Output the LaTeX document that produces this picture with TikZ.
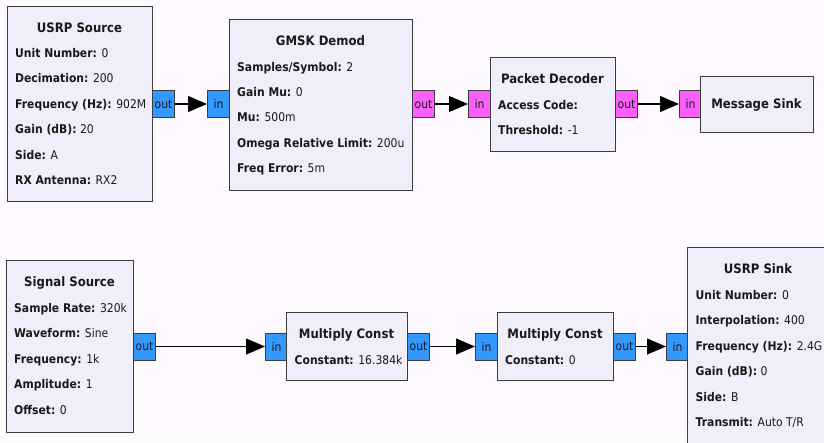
\documentclass[tikz,border=0pt]{standalone}
\usepackage{fontspec}
\setmainfont{DejaVu Sans}[FakeStretch=0.9]
\usetikzlibrary{arrows.meta}
\definecolor{bgc}{RGB}{253,249,255}
\definecolor{blkfill}{RGB}{241,238,252}
\definecolor{bordc}{RGB}{60,60,60}
\definecolor{portblue}{RGB}{51,153,255}
\definecolor{portmag}{RGB}{250,95,250}
\definecolor{txtc}{RGB}{25,25,25}
\newcommand\ttlfont{\fontsize{13}{13}\selectfont\bfseries}
\newcommand\bodyfont{\fontsize{12}{12}\selectfont}
\tikzset{
  blk/.style={draw=bordc, fill=blkfill, line width=1.4pt, rectangle, inner sep=0pt, anchor=north west},
  ttl/.style={font=\ttlfont, text=txtc, anchor=base, inner sep=0pt},
  prm/.style={font=\bodyfont, text=txtc, anchor=base west, inner sep=0pt},
  portb/.style={draw=bordc, fill=portblue, line width=1pt, minimum width=22pt, minimum height=27pt, inner sep=0pt, font=\bodyfont, text=txtc, anchor=north west},
  portm/.style={portb, fill=portmag},
  wire/.style={draw=black, line width=1.1pt, -{Triangle[length=19pt,width=16pt]}}
}
\begin{document}
\begin{tikzpicture}[x=1pt,y=-1pt]
\useasboundingbox (0,0) rectangle (824,442);
\clip (0,0) rectangle (824,442);
\fill[bgc] (0,0) rectangle (824,442);

% ---------- USRP Source ----------
\node[blk, minimum width=145pt, minimum height=195pt] (usrc) at (7,6) {};
\node[ttl] (usrcT) at (79.5,32) {USRP Source};
\node[prm] (usrc1) at (15,57) {\textbf{Unit Number:} 0};
\node[prm] (usrc2) at (15,82.5) {\textbf{Decimation:} 200};
\node[prm] (usrc3) at (15,108) {\textbf{Frequency (Hz):} 902M};
\node[prm] (usrc4) at (15,133.5) {\textbf{Gain (dB):} 20};
\node[prm] (usrc5) at (15,159) {\textbf{Side:} A};
\node[prm] (usrc6) at (15,184.5) {\textbf{RX Antenna:} RX2};
\node[portb] (usrcOut) at (152,90) {out};

% ---------- GMSK Demod ----------
\node[portb] (gmskIn) at (207,90) {in};
\node[blk, minimum width=183pt, minimum height=171pt] (gmsk) at (229,19) {};
\node[ttl] (gmskT) at (320.5,45) {GMSK Demod};
\node[prm] (gmsk1) at (237,71) {\textbf{Samples/Symbol:} 2};
\node[prm] (gmsk2) at (237,96.3) {\textbf{Gain Mu:} 0};
\node[prm] (gmsk3) at (237,121.6) {\textbf{Mu:} 500m};
\node[prm] (gmsk4) at (237,147) {\textbf{Omega Relative Limit:} 200u};
\node[prm] (gmsk5) at (237,172.3) {\textbf{Freq Error:} 5m};
\node[portm] (gmskOut) at (412,90) {out};

% ---------- Packet Decoder ----------
\node[portm] (pdIn) at (468,90) {in};
\node[blk, minimum width=125pt, minimum height=94pt] (pd) at (490,57) {};
\node[ttl] (pdT) at (552.5,83) {Packet Decoder};
\node[prm] (pd1) at (498,109) {\textbf{Access Code:}};
\node[prm] (pd2) at (498,134) {\textbf{Threshold:} -1};
\node[portm] (pdOut) at (615,90) {out};

% ---------- Message Sink ----------
\node[portm] (msIn) at (679,90) {in};
\node[blk, minimum width=113pt, minimum height=56pt] (ms) at (700,76) {};
\node[ttl] (msT) at (756.5,108.5) {Message Sink};

% ---------- Signal Source ----------
\node[blk, minimum width=127pt, minimum height=172pt] (sig) at (6,260) {};
\node[ttl] (sigT) at (69.5,286) {Signal Source};
\node[prm] (sig1) at (14,312) {\textbf{Sample Rate:} 320k};
\node[prm] (sig2) at (14,337.5) {\textbf{Waveform:} Sine};
\node[prm] (sig3) at (14,363) {\textbf{Frequency:} 1k};
\node[prm] (sig4) at (14,388.5) {\textbf{Amplitude:} 1};
\node[prm] (sig5) at (14,414) {\textbf{Offset:} 0};
\node[portb] (sigOut) at (133,332.5) {out};

% ---------- Multiply Const 1 ----------
\node[portb] (mcaIn) at (265,332.5) {in};
\node[blk, minimum width=121pt, minimum height=68pt] (mca) at (286,312) {};
\node[ttl] (mcaT) at (346.5,338) {Multiply Const};
\node[prm] (mca1) at (294.5,364) {\textbf{Constant:} 16.384k};
\node[portb] (mcaOut) at (407,332.5) {out};

% ---------- Multiply Const 2 ----------
\node[portb] (mcbIn) at (475,332.5) {in};
\node[blk, minimum width=116pt, minimum height=68pt] (mcb) at (497,312) {};
\node[ttl] (mcbT) at (555,338) {Multiply Const};
\node[prm] (mcb1) at (505,364) {\textbf{Constant:} 0};
\node[portb] (mcbOut) at (613,332.5) {out};

% ---------- USRP Sink ----------
\node[portb] (usnkIn) at (666,332.5) {in};
\node[blk, minimum width=142pt, minimum height=198pt] (usnk) at (687,247) {};
\node[ttl] (usnkT) at (758,273) {USRP Sink};
\node[prm] (usnk1) at (695.5,299) {\textbf{Unit Number:} 0};
\node[prm] (usnk2) at (695.5,324.5) {\textbf{Interpolation:} 400};
\node[prm] (usnk3) at (695.5,350) {\textbf{Frequency (Hz):} 2.4G};
\node[prm] (usnk4) at (695.5,375.5) {\textbf{Gain (dB):} 0};
\node[prm] (usnk5) at (695.5,401) {\textbf{Side:} B};
\node[prm] (usnk6) at (695.5,426.5) {\textbf{Transmit:} Auto T/R};

% ---------- connections ----------
\draw[wire] (usrcOut.east) -- (gmskIn.west);
\draw[wire] (gmskOut.east) -- (pdIn.west);
\draw[wire] (pdOut.east) -- (msIn.west);
\draw[wire] (sigOut.east) -- (mcaIn.west);
\draw[wire] (mcaOut.east) -- (mcbIn.west);
\draw[wire] (mcbOut.east) -- (usnkIn.west);
\end{tikzpicture}
\end{document}
